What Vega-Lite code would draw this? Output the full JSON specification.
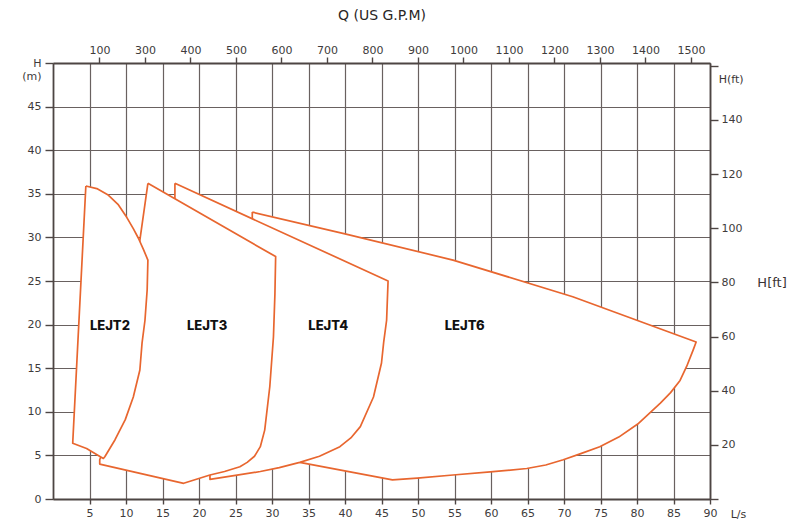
{
  "$schema": "https://vega.github.io/schema/vega-lite/v6.json",
  "width": 657,
  "height": 436,
  "autosize": {"type": "none"},
  "padding": {"left": 53, "top": 63, "right": 88, "bottom": 27},
  "background": "white",
  "config": {
    "view": {"stroke": null},
    "axis": {
      "labelFont": "DejaVu Sans",
      "labelFontSize": 11,
      "labelColor": "#403b3b",
      "labelOverlap": false,
      "labelFlush": false,
      "domainColor": "#4d4543",
      "domainWidth": 1.8,
      "tickColor": "#4d4543",
      "tickWidth": 1.4,
      "gridColor": "#696160",
      "gridWidth": 1.2,
      "titleFont": "DejaVu Sans",
      "titleFontWeight": "normal",
      "titleColor": "#2a2626"
    }
  },
  "datasets": {
    "curves": [
      {"pump": "LEJT2", "i": 1, "q": 4.5, "h": 35.9},
      {"pump": "LEJT2", "i": 2, "q": 6.0, "h": 35.6},
      {"pump": "LEJT2", "i": 3, "q": 7.5, "h": 34.9},
      {"pump": "LEJT2", "i": 4, "q": 8.9, "h": 33.8},
      {"pump": "LEJT2", "i": 5, "q": 10.1, "h": 32.3},
      {"pump": "LEJT2", "i": 6, "q": 11.0, "h": 31.0},
      {"pump": "LEJT2", "i": 7, "q": 11.7, "h": 29.9},
      {"pump": "LEJT2", "i": 8, "q": 12.4, "h": 28.6},
      {"pump": "LEJT2", "i": 9, "q": 13.0, "h": 27.4},
      {"pump": "LEJT2", "i": 10, "q": 12.9, "h": 24.0},
      {"pump": "LEJT2", "i": 11, "q": 12.6, "h": 20.5},
      {"pump": "LEJT2", "i": 12, "q": 12.2, "h": 17.9},
      {"pump": "LEJT2", "i": 13, "q": 11.9, "h": 14.8},
      {"pump": "LEJT2", "i": 14, "q": 11.0, "h": 11.7},
      {"pump": "LEJT2", "i": 15, "q": 9.9, "h": 9.1},
      {"pump": "LEJT2", "i": 16, "q": 8.5, "h": 6.8},
      {"pump": "LEJT2", "i": 17, "q": 7.1, "h": 4.85},
      {"pump": "LEJT2", "i": 18, "q": 6.9, "h": 4.65},
      {"pump": "LEJT2", "i": 19, "q": 6.2, "h": 5.0},
      {"pump": "LEJT2", "i": 20, "q": 4.6, "h": 5.8},
      {"pump": "LEJT2", "i": 21, "q": 2.7, "h": 6.4},
      {"pump": "LEJT2", "i": 22, "q": 4.5, "h": 35.9},

      {"pump": "LEJT3", "i": 1, "q": 13.0, "h": 36.2},
      {"pump": "LEJT3", "i": 2, "q": 30.5, "h": 27.8},
      {"pump": "LEJT3", "i": 3, "q": 30.4, "h": 23.5},
      {"pump": "LEJT3", "i": 4, "q": 30.2, "h": 18.6},
      {"pump": "LEJT3", "i": 5, "q": 29.7, "h": 12.9},
      {"pump": "LEJT3", "i": 6, "q": 29.0, "h": 7.9},
      {"pump": "LEJT3", "i": 7, "q": 28.4, "h": 6.0},
      {"pump": "LEJT3", "i": 8, "q": 27.6, "h": 4.9},
      {"pump": "LEJT3", "i": 9, "q": 26.6, "h": 4.2},
      {"pump": "LEJT3", "i": 10, "q": 25.6, "h": 3.7},
      {"pump": "LEJT3", "i": 11, "q": 23.5, "h": 3.15},
      {"pump": "LEJT3", "i": 12, "q": 21.5, "h": 2.75},
      {"pump": "LEJT3", "i": 13, "q": 17.9, "h": 1.8},
      {"pump": "LEJT3", "i": 14, "q": 6.4, "h": 4.0},
      {"pump": "LEJT3", "i": 15, "q": 6.4, "h": 4.5},
      {"pump": "LEJT3", "i": 16, "q": 9.5, "h": 11.0},
      {"pump": "LEJT3", "i": 17, "q": 11.9, "h": 29.7},
      {"pump": "LEJT3", "i": 18, "q": 13.0, "h": 36.2},

      {"pump": "LEJT4", "i": 1, "q": 16.7, "h": 36.2},
      {"pump": "LEJT4", "i": 2, "q": 45.9, "h": 25.0},
      {"pump": "LEJT4", "i": 3, "q": 45.7, "h": 20.5},
      {"pump": "LEJT4", "i": 4, "q": 45.3, "h": 18.0},
      {"pump": "LEJT4", "i": 5, "q": 45.0, "h": 15.6},
      {"pump": "LEJT4", "i": 6, "q": 43.9, "h": 11.7},
      {"pump": "LEJT4", "i": 7, "q": 42.1, "h": 8.3},
      {"pump": "LEJT4", "i": 8, "q": 40.8, "h": 7.0},
      {"pump": "LEJT4", "i": 9, "q": 39.3, "h": 6.0},
      {"pump": "LEJT4", "i": 10, "q": 36.5, "h": 4.9},
      {"pump": "LEJT4", "i": 11, "q": 33.8, "h": 4.2},
      {"pump": "LEJT4", "i": 12, "q": 31.0, "h": 3.6},
      {"pump": "LEJT4", "i": 13, "q": 28.4, "h": 3.15},
      {"pump": "LEJT4", "i": 14, "q": 25.0, "h": 2.7},
      {"pump": "LEJT4", "i": 15, "q": 21.5, "h": 2.25},
      {"pump": "LEJT4", "i": 16, "q": 21.5, "h": 2.7},
      {"pump": "LEJT4", "i": 17, "q": 16.7, "h": 34.45},
      {"pump": "LEJT4", "i": 18, "q": 16.7, "h": 36.2},

      {"pump": "LEJT6", "i": 1, "q": 27.3, "h": 32.9},
      {"pump": "LEJT6", "i": 2, "q": 40.0, "h": 30.4},
      {"pump": "LEJT6", "i": 3, "q": 54.8, "h": 27.4},
      {"pump": "LEJT6", "i": 4, "q": 71.2, "h": 23.2},
      {"pump": "LEJT6", "i": 5, "q": 88.1, "h": 18.0},
      {"pump": "LEJT6", "i": 6, "q": 87.7, "h": 17.1},
      {"pump": "LEJT6", "i": 7, "q": 86.8, "h": 15.2},
      {"pump": "LEJT6", "i": 8, "q": 85.9, "h": 13.6},
      {"pump": "LEJT6", "i": 9, "q": 84.6, "h": 12.2},
      {"pump": "LEJT6", "i": 10, "q": 83.2, "h": 11.0},
      {"pump": "LEJT6", "i": 11, "q": 80.1, "h": 8.6},
      {"pump": "LEJT6", "i": 12, "q": 77.5, "h": 7.1},
      {"pump": "LEJT6", "i": 13, "q": 74.9, "h": 6.0},
      {"pump": "LEJT6", "i": 14, "q": 72.3, "h": 5.2},
      {"pump": "LEJT6", "i": 15, "q": 69.9, "h": 4.5},
      {"pump": "LEJT6", "i": 16, "q": 67.5, "h": 3.9},
      {"pump": "LEJT6", "i": 17, "q": 64.9, "h": 3.5},
      {"pump": "LEJT6", "i": 18, "q": 59.9, "h": 3.1},
      {"pump": "LEJT6", "i": 19, "q": 54.8, "h": 2.75},
      {"pump": "LEJT6", "i": 20, "q": 49.9, "h": 2.4},
      {"pump": "LEJT6", "i": 21, "q": 46.5, "h": 2.2},
      {"pump": "LEJT6", "i": 22, "q": 33.8, "h": 4.2},
      {"pump": "LEJT6", "i": 23, "q": 27.3, "h": 32.2},
      {"pump": "LEJT6", "i": 24, "q": 27.3, "h": 32.9}
    ],
    "labels": [
      {"text": "LEJT2", "q": 7.8, "h": 19.8},
      {"text": "LEJT3", "q": 21.1, "h": 19.8},
      {"text": "LEJT4", "q": 37.7, "h": 19.8},
      {"text": "LEJT6", "q": 56.4, "h": 19.8}
    ],
    "notes": [
      {"text": "H(ft)", "q": 92.9, "h": 48.0, "size": "s"},
      {"text": "H[ft]", "q": 98.5, "h": 24.8, "size": "l"},
      {"text": "L/s", "q": 93.9, "h": -1.8, "size": "s"}
    ],
    "secondary": [
      {"gpm": 200, "ft": 20},
      {"gpm": 1500, "ft": 160}
    ]
  },
  "layer": [
    {
      "encoding": {
        "x": {"field": "q", "type": "quantitative", "scale": {"domain": [0, 90], "nice": false},
          "axis": {"orient": "bottom", "values": [5,10,15,20,25,30,35,40,45,50,55,60,65,70,75,80,85,90], "title": null, "tickSize": 5, "labelPadding": 3, "grid": true, "labelOverlap": false, "labelFlush": false, "labelBound": false,
            "labelExpr": "format(datum.value, 'd')"}},
        "y": {"field": "h", "type": "quantitative", "scale": {"domain": [0, 50], "nice": false},
          "axis": {"orient": "left", "values": [0,5,10,15,20,25,30,35,40,45,50], "title": null, "tickSize": 8, "labelPadding": 4, "grid": true, "labelOverlap": false,
            "labelExpr": "datum.value == 50 ? ['H', '(m)'] : datum.label"}}
      },
      "layer": [
        {
          "data": {"name": "curves"},
          "transform": [{"filter": "datum.pump == 'LEJT6'"}],
          "mark": {"type": "line", "fill": "white", "stroke": "#e8662f", "strokeWidth": 1.7, "strokeJoin": "round"},
          "encoding": {"order": {"field": "i", "type": "quantitative"}}
        },
        {
          "data": {"name": "curves"},
          "transform": [{"filter": "datum.pump == 'LEJT4'"}],
          "mark": {"type": "line", "fill": "white", "stroke": "#e8662f", "strokeWidth": 1.7, "strokeJoin": "round"},
          "encoding": {"order": {"field": "i", "type": "quantitative"}}
        },
        {
          "data": {"name": "curves"},
          "transform": [{"filter": "datum.pump == 'LEJT3'"}],
          "mark": {"type": "line", "fill": "white", "stroke": "#e8662f", "strokeWidth": 1.7, "strokeJoin": "round"},
          "encoding": {"order": {"field": "i", "type": "quantitative"}}
        },
        {
          "data": {"name": "curves"},
          "transform": [{"filter": "datum.pump == 'LEJT2'"}],
          "mark": {"type": "line", "fill": "white", "stroke": "#e8662f", "strokeWidth": 1.7, "strokeJoin": "round"},
          "encoding": {"order": {"field": "i", "type": "quantitative"}}
        },
        {
          "data": {"name": "labels"},
          "mark": {"type": "text", "font": "Inter", "fontWeight": 800, "fontSize": 13, "color": "#111111"},
          "encoding": {"text": {"field": "text"}}
        },
        {
          "data": {"name": "notes"},
          "mark": {"type": "text", "font": "DejaVu Sans", "color": "#3a3535"},
          "encoding": {
            "text": {"field": "text"},
            "size": {"field": "size", "type": "nominal", "scale": {"domain": ["s", "l"], "range": [11, 13]}, "legend": null}
          }
        }
      ]
    },
    {
      "data": {"name": "secondary"},
      "mark": {"type": "point", "opacity": 0},
      "encoding": {
        "x": {"field": "gpm", "type": "quantitative", "scale": {"domain": [98, 1542], "nice": false, "zero": false},
          "axis": {"orient": "top", "values": [200,300,400,500,600,700,800,900,1000,1100,1200,1300,1400,1500],
            "labelExpr": "datum.value == 200 ? '100' : format(datum.value, 'd')", "tickSize": 6, "labelPadding": 2, "grid": false, "labelOverlap": false,
            "title": "Q (US  G.P.M)", "titleFontSize": 14, "titlePadding": 22}},
        "y": {"field": "ft", "type": "quantitative", "scale": {"domain": [0, 161], "nice": false},
          "axis": {"orient": "right", "values": [0,20,40,60,80,100,120,140,160],
            "labelExpr": "datum.value == 160 || datum.value == 0 ? '' : format(datum.value, 'd')", "tickSize": 8, "labelPadding": 3, "grid": false, "title": null}}
      }
    }
  ],
  "resolve": {"scale": {"x": "independent", "y": "independent"}}
}
